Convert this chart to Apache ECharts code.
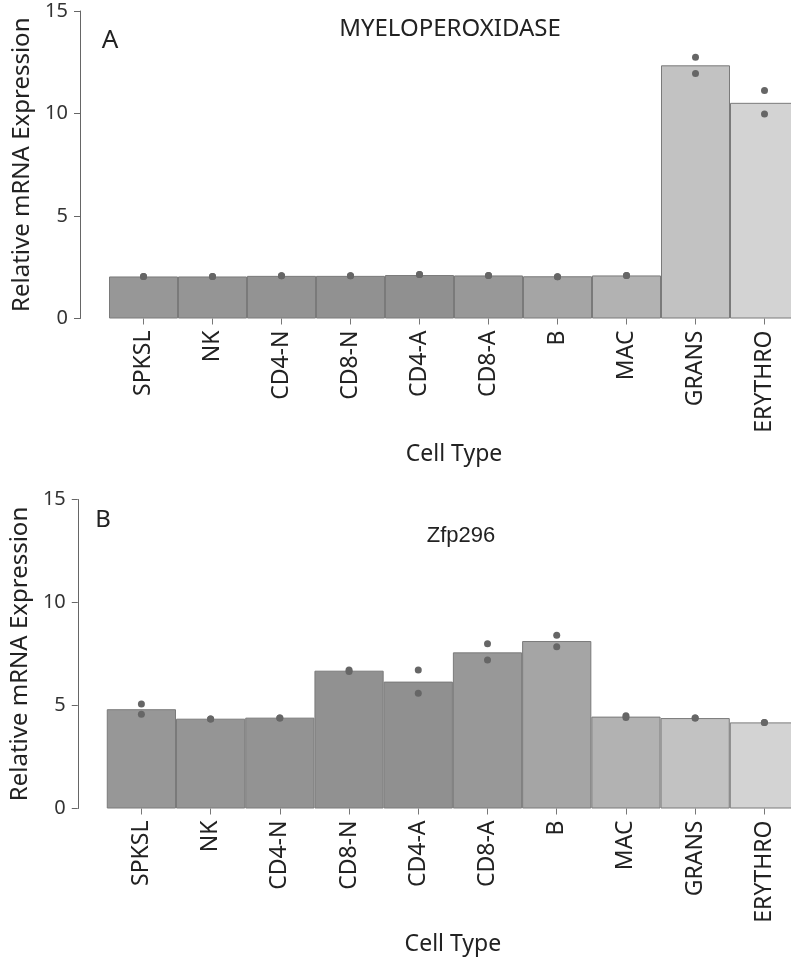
<!DOCTYPE html>
<html>
<head>
<meta charset="utf-8">
<script src="https://cdn.jsdelivr.net/npm/echarts@6/dist/echarts.min.js"></script>
<style>
  html, body { margin: 0; padding: 0; background: #fff; overflow: hidden; }
  #chart { width: 800px; height: 965px; }
</style>
</head>
<body>
<div id="chart"></div>
<script>
// Données
const cellTypes = ['SPKSL', 'NK', 'CD4-N', 'CD8-N', 'CD4-A', 'CD8-A', 'B', 'MAC', 'GRANS', 'ERYTHRO'];
const yTicks = [0, 5, 10, 15];

// Panneau A : myeloperoxidase
const mpoMean = [2.05, 2.05, 2.08, 2.08, 2.12, 2.1, 2.06, 2.1, 12.35, 10.52];
const mpoRep1 = [2.05, 2.05, 2.08, 2.08, 2.15, 2.1, 2.04, 2.1, 12.75, 11.12];
const mpoRep2 = [2.05, 2.05, 2.08, 2.08, 2.15, 2.1, 2.04, 2.1, 11.95, 9.98];

// Panneau B : Zfp296
const zfpMean = [4.82, 4.36, 4.41, 6.69, 6.16, 7.58, 8.13, 4.46, 4.39, 4.18];
const zfpRep1 = [5.07, 4.35, 4.39, 6.72, 6.72, 8.0, 8.41, 4.5, 4.39, 4.18];
const zfpRep2 = [4.57, 4.35, 4.39, 6.65, 5.59, 7.21, 7.85, 4.42, 4.39, 4.18];

const barColors = ['#979797', '#959595', '#939393', '#919191', '#909090', '#989898', '#a5a5a5', '#b2b2b2', '#c2c2c2', '#d3d3d3'];

const chart = echarts.init(document.getElementById('chart'));

const font = 'Noto Sans';

function xAxisFor(gridIndex) {
    return {
        type: 'category',
        gridIndex: gridIndex,
        data: cellTypes,
        axisLine: { show: false },
        axisTick: { show: true, alignWithLabel: true, length: 6, lineStyle: { color: '#777' } },
        axisLabel: { rotate: 90, margin: 12, fontSize: 23, fontFamily: font, color: '#222' },
        name: 'Cell Type',
        nameLocation: 'middle',
        nameGap: 124,
        nameTextStyle: { fontSize: 23, fontFamily: font, color: '#222' }
    };
}

function yAxisFor(gridIndex, offset) {
    return {
        type: 'value',
        gridIndex: gridIndex,
        min: 0,
        max: 15,
        interval: 5,
        offset: offset,
        splitLine: { show: false },
        axisLine: { show: true, lineStyle: { color: '#666', width: 1 } },
        axisTick: { show: true, length: 6, lineStyle: { color: '#666' } },
        axisLabel: {
            margin: 12, fontSize: 20, fontFamily: font, color: '#333',
            formatter: v => (yTicks.includes(v) ? String(v) : '')
        },
        name: 'Relative mRNA Expression',
        nameLocation: 'middle',
        nameGap: 40,
        nameTextStyle: { fontSize: 24, fontFamily: font, color: '#222' }
    };
}

function barSeries(idx, values) {
    return {
        type: 'bar',
        xAxisIndex: idx,
        yAxisIndex: idx,
        barCategoryGap: 0,
        data: values.map((v, i) => ({ value: v, itemStyle: { color: barColors[i] } })),
        itemStyle: { borderColor: '#7a7a7a', borderWidth: 1 },
        silent: true
    };
}

function dotSeries(idx, values) {
    return {
        type: 'scatter',
        xAxisIndex: idx,
        yAxisIndex: idx,
        symbolSize: 7,
        itemStyle: { color: '#666', opacity: 1 },
        data: values,
        z: 5,
        silent: true
    };
}

const options = {
    animation: false,
    backgroundColor: '#fff',
    grid: [
        { left: 109, width: 690, top: 11, height: 307.5 },
        { left: 106, width: 693, top: 499.5, height: 309 }
    ],
    xAxis: [xAxisFor(0), xAxisFor(1)],
    yAxis: [yAxisFor(0, 29), yAxisFor(1, 29)],
    series: [
        barSeries(0, mpoMean),
        dotSeries(0, mpoRep1),
        dotSeries(0, mpoRep2),
        barSeries(1, zfpMean),
        dotSeries(1, zfpRep1),
        dotSeries(1, zfpRep2)
    ],
    graphic: [
        { type: 'text', x: 450, y: 29, style: { text: 'MYELOPEROXIDASE', font: '24px "Noto Sans"', fill: '#222', textAlign: 'center', textVerticalAlign: 'middle' } },
        { type: 'text', x: 110, y: 41, style: { text: 'A', font: '26px "Noto Sans"', fill: '#222', textAlign: 'center', textVerticalAlign: 'middle' } },
        { type: 'text', x: 461, y: 536, style: { text: 'Zfp296', font: '22px "Liberation Sans"', fill: '#222', textAlign: 'center', textVerticalAlign: 'middle' } },
        { type: 'text', x: 103, y: 520, style: { text: 'B', font: '24px "Noto Sans"', fill: '#222', textAlign: 'center', textVerticalAlign: 'middle' } }
    ]
};

chart.setOption(options);

window.addEventListener('resize', () => {
    chart.resize();
});
</script>
</body>
</html>
